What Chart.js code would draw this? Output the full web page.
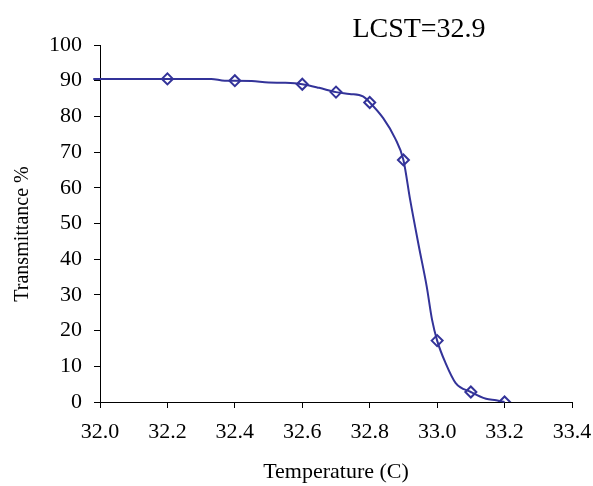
<!DOCTYPE html>
<html>
<head>
<meta charset="utf-8">
<script src="https://cdn.jsdelivr.net/npm/chart.js@4/dist/chart.umd.min.js"></script>
<style>
  html, body { margin: 0; padding: 0; background: #fff; }
  #wrap { width: 593px; height: 486px; position: relative; }
</style>
</head>
<body>
<div id="wrap"><canvas id="c"></canvas></div>
<script>
// Measured points (markers)
const markerTemps = [32.2, 32.4, 32.6, 32.7, 32.8, 32.9, 33.0, 33.1, 33.2];
const markerTrans = [90.5, 90.0, 89.0, 86.8, 83.9, 67.8, 17.2, 2.8, 0.0];

// Curve
const curveTemps = [31.98, 32.2, 32.33, 32.37, 32.4, 32.45, 32.5, 32.55, 32.6, 32.65, 32.7, 32.74, 32.78, 32.8, 32.84, 32.875, 32.9, 32.92, 32.946, 32.969, 32.985, 33.0, 33.025, 33.055, 33.1, 33.145, 33.175, 33.2];
const curveTrans = [90.5, 90.5, 90.5, 90.0, 90.0, 89.9, 89.5, 89.4, 89.0, 88.0, 86.8, 86.3, 85.6, 83.9, 79.5, 73.9, 67.8, 56.6, 43.5, 32.4, 23.0, 17.2, 10.9, 5.3, 2.8, 0.9, 0.5, 0.0];

const xTicks = [32.0, 32.2, 32.4, 32.6, 32.8, 33.0, 33.2, 33.4];
const yTicks = [0, 10, 20, 30, 40, 50, 60, 70, 80, 90, 100];

const chartTitle = 'LCST=32.9';
const xTitle = 'Temperature (C)';
const yTitle = 'Transmittance %';

const navy = '#333399';
const serif = "'Liberation Serif', 'Times New Roman', serif";

const textPlugin = {
  id: 'floatText',
  afterDraw(chart) {
    const ctx = chart.ctx;
    ctx.save();
    ctx.font = "28px " + serif;
    ctx.fillStyle = '#000';
    ctx.textAlign = 'center';
    ctx.textBaseline = 'alphabetic';
    ctx.fillText(chartTitle, 419, 37);
    ctx.restore();

    ctx.save();
    ctx.font = "20px " + serif;
    ctx.fillStyle = '#000';
    ctx.textAlign = 'center';
    ctx.textBaseline = 'middle';
    ctx.translate(23, 234);
    ctx.rotate(-Math.PI / 2);
    ctx.fillText(yTitle, 0, 0);
    ctx.restore();
  }
};

new Chart(document.getElementById('c'), {
  type: 'scatter',
  data: {
    datasets: [
      {
        data: markerTemps.map((t, i) => ({ x: t, y: markerTrans[i] })),
        showLine: false,
        pointStyle: 'rectRot',
        pointRadius: 5.5,
        pointHoverRadius: 5.5,
        pointBorderWidth: 2,
        pointBorderColor: navy,
        pointBackgroundColor: 'rgba(0,0,0,0)',
        order: 0
      },
      {
        data: curveTemps.map((t, i) => ({ x: t, y: curveTrans[i] })),
        showLine: true,
        borderColor: navy,
        borderWidth: 2,
        pointRadius: 0,
        pointHoverRadius: 0,
        cubicInterpolationMode: 'monotone',
        clip: false,
        order: 1
      }
    ]
  },
  options: {
    responsive: true,
    maintainAspectRatio: false,
    animation: false,
    events: [],
    layout: { padding: { left: 0, right: 21, top: 45, bottom: 0 } },
    plugins: {
      legend: { display: false },
      tooltip: { enabled: false },
      title: { display: false }
    },
    scales: {
      x: {
        type: 'linear',
        min: 32.0,
        max: 33.4,
        afterBuildTicks(scale) { scale.ticks = xTicks.map(v => ({ value: v })); },
        afterFit(scale) { scale.height = 84; scale.paddingLeft = 0; scale.paddingRight = 0; },
        ticks: {
          color: '#000',
          font: { family: serif, size: 22 },
          padding: 11,
          maxRotation: 0,
          callback: v => Number(v).toFixed(1)
        },
        grid: { display: true, drawOnChartArea: false, drawTicks: true, tickLength: 6, color: '#000', lineWidth: 1 },
        border: { display: true, color: '#000', width: 1 },
        title: {
          display: true,
          text: xTitle,
          color: '#000',
          font: { family: serif, size: 22 },
          padding: { top: 0, bottom: 1 }
        }
      },
      y: {
        type: 'linear',
        min: 0,
        max: 100,
        afterBuildTicks(scale) { scale.ticks = yTicks.map(v => ({ value: v })); },
        afterFit(scale) { scale.width = 100; scale.paddingTop = 0; scale.paddingBottom = 0; },
        ticks: {
          color: '#000',
          font: { family: serif, size: 22 },
          padding: 12
        },
        grid: { display: true, drawOnChartArea: false, drawTicks: true, tickLength: 6, color: '#000', lineWidth: 1 },
        border: { display: true, color: '#000', width: 1 },
        title: { display: false }
      }
    }
  },
  plugins: [textPlugin]
});
</script>
</body>
</html>
